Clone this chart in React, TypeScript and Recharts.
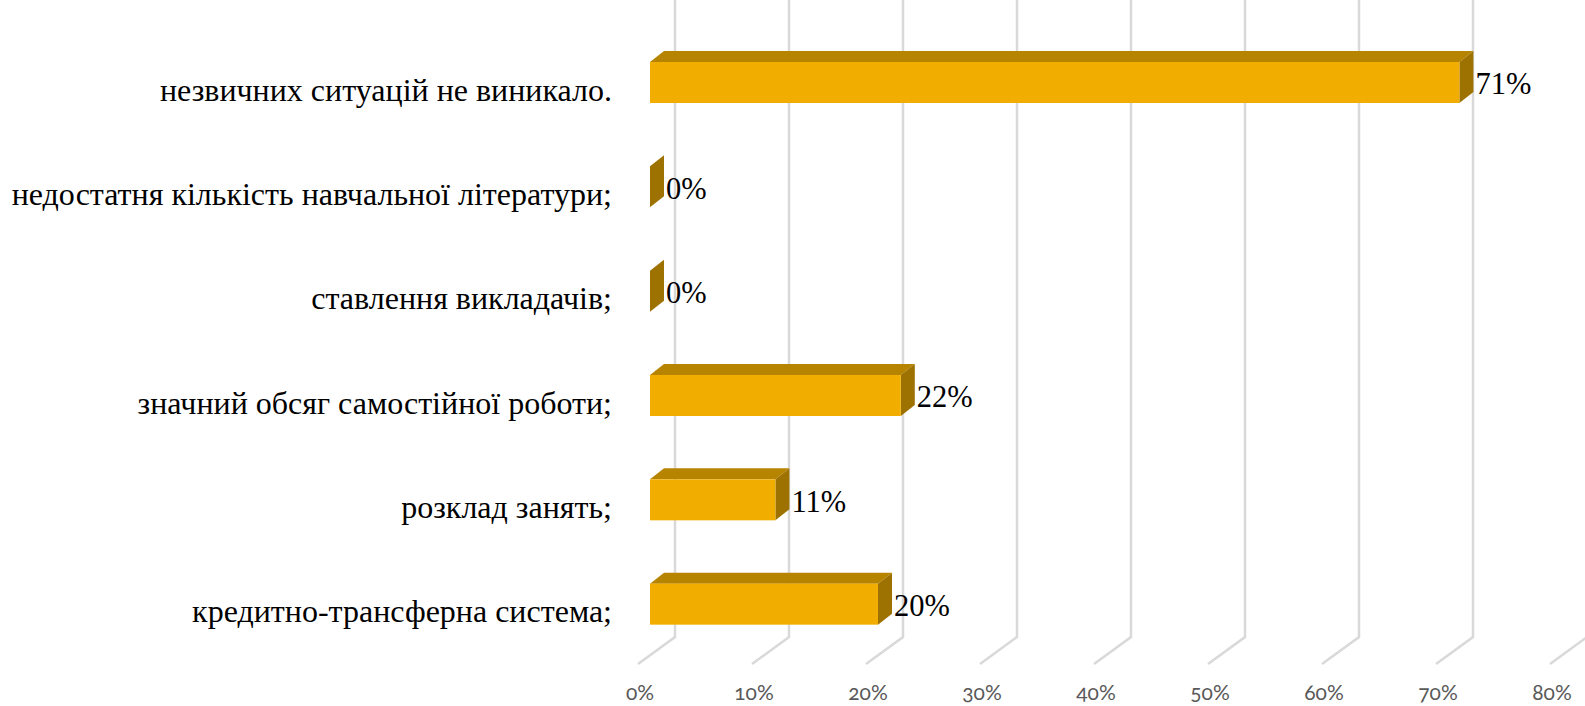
import React from "react";
import { BarChart, Bar, XAxis, YAxis, CartesianGrid, LabelList } from "recharts";

const categories = [
  "незвичних ситуацій не виникало.",
  "недостатня кількість навчальної літератури;",
  "ставлення викладачів;",
  "значний обсяг самостійної роботи;",
  "розклад занять;",
  "кредитно-трансферна система;",
];
const shares = [71, 0, 0, 22, 11, 20];
const xTicks = [0, 10, 20, 30, 40, 50, 60, 70, 80];

const chartData = categories.map((name, i) => ({ name, value: shares[i] }));

// fake 3D depth of the excel style bars and of the floor
const DX = 14;
const DY = 11;
const WALL_DX = 25;
const FLOOR_DX = 12;
const WALL_BOTTOM = 637;
const FLOOR_FRONT = 664;

const Bar3D = (props: any) => {
  const { x, y, width, height } = props;
  return (
    <g>
      <polygon
        points={`${x},${y} ${x + DX},${y - DY} ${x + width + DX},${y - DY} ${x + width},${y}`}
        fill="#B78400"
      />
      <polygon
        points={`${x + width},${y} ${x + width + DX},${y - DY} ${x + width + DX},${y + height - DY} ${x + width},${y + height}`}
        fill="#9E7200"
      />
      {width > 0 && <rect x={x} y={y} width={width} height={height} fill="#F2AE00" />}
    </g>
  );
};

const WallLine = (props: any) => {
  const { x1 } = props;
  const wallX = x1 + WALL_DX;
  return (
    <polyline
      points={`${wallX},0 ${wallX},${WALL_BOTTOM} ${x1 - FLOOR_DX},${FLOOR_FRONT}`}
      fill="none"
      stroke="#D9D9D9"
      strokeWidth={2.5}
    />
  );
};

const PercentTick = (props: any) => {
  const { x, payload } = props;
  return (
    <text
      x={x - 10}
      y={700}
      textAnchor="middle"
      fill="#595959"
      fontSize={21}
      fontFamily="Lato, 'Open Sans', sans-serif"
      style={{ fontVariantNumeric: "oldstyle-nums" }}
    >
      {payload.value}%
    </text>
  );
};

const CategoryTick = (props: any) => {
  const { x, y, payload } = props;
  return (
    <text
      x={x}
      y={y + 18.5}
      textAnchor="end"
      fill="#000000"
      fontSize={32}
      fontFamily="'Liberation Serif', serif"
    >
      {payload.value}
    </text>
  );
};

export default function App() {
  return (
    <div style={{ position: "absolute", left: 0, top: 0, width: 1585, height: 706 }}>
      <BarChart
        width={1585}
        height={706}
        layout="vertical"
        data={chartData}
        margin={{ top: 30, right: 23, bottom: 0, left: 0 }}
      >
        <CartesianGrid horizontal={false} vertical={<WallLine />} />
        <XAxis
          type="number"
          domain={[0, 80]}
          ticks={xTicks}
          height={50}
          interval={0}
          axisLine={false}
          tickLine={false}
          tick={<PercentTick />}
        />
        <YAxis
          type="category"
          dataKey="name"
          width={650}
          interval={0}
          axisLine={false}
          tickLine={false}
          tickMargin={32}
          tick={<CategoryTick />}
        />
        <Bar dataKey="value" barSize={41} isAnimationActive={false} shape={<Bar3D />}>
          <LabelList
            dataKey="value"
            position="right"
            offset={16}
            dy={1}
            formatter={(v: any) => `${v}%`}
            fill="#000000"
            fontSize={30.5}
            fontFamily="'Liberation Serif', serif"
          />
        </Bar>
      </BarChart>
    </div>
  );
}
